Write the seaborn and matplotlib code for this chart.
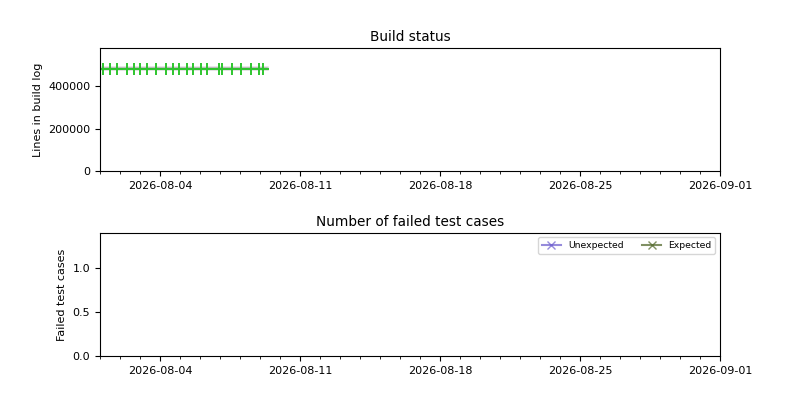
import matplotlib
matplotlib.use("Agg")
import matplotlib.pyplot as plt
import matplotlib.dates as mdates
import seaborn as sns
import numpy as np
import pandas as pd

# -----------------------------
# data
# -----------------------------
build_times = [
    "2026-08-01 03:07", "2026-08-01 12:00", "2026-08-01 20:00", "2026-08-02 08:00",
    "2026-08-02 17:17", "2026-08-03 00:00", "2026-08-03 08:00", "2026-08-03 18:43",
    "2026-08-04 07:12", "2026-08-04 15:07", "2026-08-04 23:17", "2026-08-05 08:00",
    "2026-08-05 15:07", "2026-08-06 00:43", "2026-08-06 08:00", "2026-08-06 22:19",
    "2026-08-07 02:00", "2026-08-07 14:00", "2026-08-08 01:12", "2026-08-08 13:12",
    "2026-08-08 22:19", "2026-08-09 03:07", "2026-08-09 08:00",
]
log_lines = [
    481800, 482000, 481900, 482100, 482000, 481900, 482000, 482100,
    482000, 481900, 482000, 482100, 482000, 481900, 482000, 482100,
    482000, 481900, 482000, 482100, 482000, 482000, 482000,
]
build_ok = [True] * 22 + [False]

failed_dates = []
unexpected_fails = []
expected_fails = []

x_start = "2026-08-01"
x_end = "2026-09-01"

df = pd.DataFrame({
    "time": pd.to_datetime(build_times),
    "lines": log_lines,
    "ok": build_ok,
})
ok_df = df[df["ok"]]

tests = pd.DataFrame({
    "time": pd.to_datetime(failed_dates),
    "unexpected": pd.Series(unexpected_fails, dtype=float),
    "expected": pd.Series(expected_fails, dtype=float),
})

# -----------------------------
# plot
# -----------------------------
fig, (ax1, ax2) = plt.subplots(2, 1, figsize=(8, 4), dpi=100)
fig.subplots_adjust(left=0.125, right=0.9, bottom=0.11, top=0.88, hspace=0.5)

sns.lineplot(data=df, x="time", y="lines", ax=ax1, color="lightgray", linewidth=3)
sns.lineplot(data=df, x="time", y="lines", ax=ax1, color="gray", linewidth=1.2)
ax1.plot(ok_df["time"], ok_df["lines"], linestyle="none", marker="+",
         color="#2ec52e", markersize=8, markeredgewidth=1.4)

ax1.set_title("Build status", fontsize=9.8, pad=5)
ax1.set_ylabel("Lines in build log", fontsize=8)
ax1.set_xlabel("")
ax1.set_ylim(0, max(log_lines) * 1.2)

ax2.plot(tests["time"], tests["unexpected"], marker="x", color="slateblue",
         alpha=0.7, label="Unexpected")
ax2.plot(tests["time"], tests["expected"], marker="x", color="darkolivegreen",
         alpha=0.75, label="Expected")
ax2.set_title("Number of failed test cases", fontsize=9.8, pad=5)
ax2.set_ylabel("Failed test cases", fontsize=8)
ax2.set_ylim(0, 1.4)
ax2.set_yticks([0.0, 0.5, 1.0])
ax2.legend(loc="upper right", ncol=2, fontsize=6.7)

for ax in (ax1, ax2):
    ax.set_xlim(pd.Timestamp(x_start), pd.Timestamp(x_end))
    ax.xaxis.set_major_locator(mdates.WeekdayLocator(byweekday=mdates.TU))
    ax.xaxis.set_minor_locator(mdates.DayLocator())
    ax.xaxis.set_major_formatter(mdates.DateFormatter("%Y-%m-%d"))
    ax.tick_params(labelsize=8)

plt.savefig("out.png", dpi=100)
